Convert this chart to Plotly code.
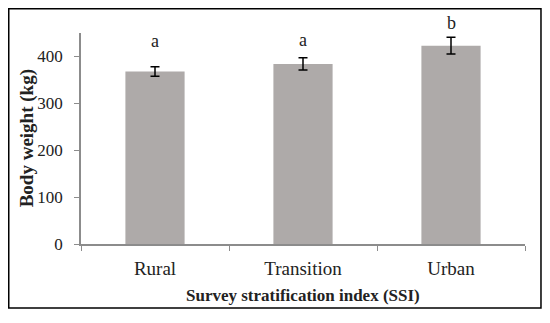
import plotly.graph_objects as go

categories = ["Rural", "Transition", "Urban"]
body_weight = [368, 384, 423]
error_se = [10, 13, 18]
letters = ["a", "a", "b"]
letter_y = [432, 436, 472]
yticks = [0, 100, 200, 300, 400]
y_max = 450

FONT = "Liberation Serif"
TXT = "#222222"

fig = go.Figure()
fig.add_trace(go.Bar(
    x=categories, y=body_weight,
    marker=dict(color="#aeaaa9", line=dict(width=0)),
    error_y=dict(type="data", array=error_se, visible=True,
                 color="black", thickness=1.5, width=4.5),
    width=0.4,
))
for c, t, ly in zip(categories, letters, letter_y):
    fig.add_annotation(x=c, y=ly / y_max, text=t, showarrow=False,
                       xref="x", yref="paper", yanchor="middle",
                       font=dict(family=FONT, size=18, color=TXT))

# axis titles
fig.add_annotation(x=0.5, y=-0.243, xref="paper", yref="paper",
                   text="<b>Survey stratification index (SSI)</b>",
                   showarrow=False, yanchor="middle",
                   font=dict(family=FONT, size=17, color=TXT))
fig.add_annotation(x=-0.122, y=0.5, xref="paper", yref="paper",
                   text="<b>Body weight (kg)</b>", textangle=-90,
                   showarrow=False, xanchor="center",
                   font=dict(family=FONT, size=19, color=TXT))

fig.add_shape(type="rect", xref="paper", yref="paper",
              x0=-0.1627, x1=1.036, y0=-0.303, y1=1.115,
              line=dict(color="black", width=1.5), fillcolor="rgba(0,0,0,0)")

fig.update_layout(
    width=542, height=315,
    margin=dict(l=73, r=25, t=25, b=79),
    paper_bgcolor="white", plot_bgcolor="white",
    showlegend=False,
    font=dict(family=FONT, size=16, color=TXT),
    xaxis=dict(
        showline=True, linecolor="#8c8c8c", linewidth=1.5,
        ticks="outside", ticklen=5, tickcolor="#8c8c8c",
        tickson="boundaries", showgrid=False, automargin=False,
        tickfont=dict(family=FONT, size=19, color=TXT),
        ticklabelstandoff=6,
    ),
    yaxis=dict(
        range=[0, y_max], tickvals=yticks,
        showline=True, linecolor="#8c8c8c", linewidth=1.5,
        ticks="outside", ticklen=5, tickcolor="#8c8c8c",
        showgrid=False, zeroline=False, automargin=False,
        tickfont=dict(family=FONT, size=17, color=TXT),
        ticklabelstandoff=8,
    ),
)

fig.write_html("out.html")
